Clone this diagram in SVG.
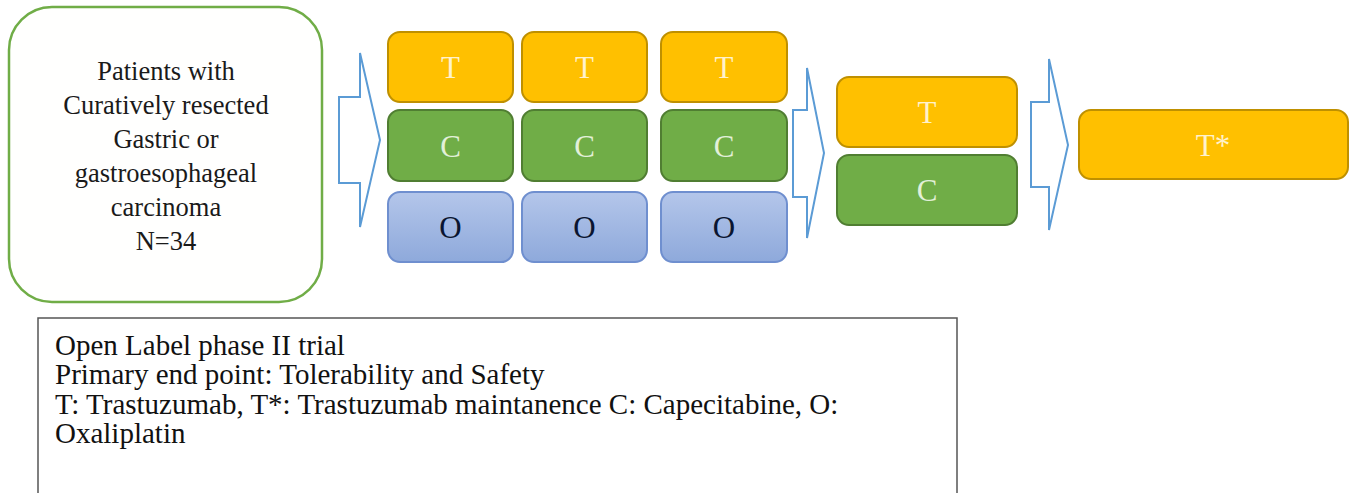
<svg xmlns="http://www.w3.org/2000/svg" width="1351" height="493" viewBox="0 0 1351 493">
<style>
.t{fill:#FFC000;stroke:#BF9000;stroke-width:2}
.c{fill:#70AD47;stroke:#507E32;stroke-width:2}
.o{fill:url(#og);stroke:#6F8FCF;stroke-width:2}
.arr{fill:#FFFFFF;stroke:#5B9BD5;stroke-width:2;stroke-linejoin:miter}
.lt{font-family:"Liberation Serif","Times New Roman",serif;font-size:31px;text-anchor:middle}
.tt{fill:#FFF2CC}
.ct{fill:#E2F0D9}
.ot{fill:#0A1530}
.main{font-family:"Liberation Serif","Times New Roman",serif;font-size:26.5px;fill:#1A1A1A;text-anchor:middle}
.leg{font-family:"Liberation Serif","Times New Roman",serif;font-size:29px;fill:#111111}
</style>
<defs>
<linearGradient id="og" x1="0" y1="0" x2="0" y2="1">
<stop offset="0" stop-color="#B4C6EA"/>
<stop offset="1" stop-color="#8EA9DB"/>
</linearGradient>
</defs>
<rect width="1351" height="493" fill="#FFFFFF"/>
<g id="patients">
<rect x="9" y="7" width="313" height="295" rx="43" ry="43" fill="#FFFFFE" stroke="#70AD47" stroke-width="2.5"/>
<text class="main" x="166" y="80">Patients with</text>
<text class="main" x="166" y="114">Curatively resected</text>
<text class="main" x="166" y="148">Gastric or</text>
<text class="main" x="166" y="182">gastroesophageal</text>
<text class="main" x="166" y="216">carcinoma</text>
<text class="main" x="166" y="250">N=34</text>
</g>
<g id="connectors">
<path class="arr" d="M339,97 L360,97 L360,53 L380,140 L360,227 L360,183 L339,183 Z"/>
<path class="arr" d="M793,110 L807,110 L807,68 L824,153 L807,238 L807,197 L793,197 Z"/>
<path class="arr" d="M1031,102 L1049,102 L1049,59 L1068,145 L1049,230 L1049,187 L1031,187 Z"/>
</g>
<g id="cycle1">
<rect class="t" x="388" y="32" width="125" height="70" rx="12"/>
<text class="lt tt" x="450.5" y="78">T</text>
<rect class="c" x="388" y="110" width="125" height="71" rx="12"/>
<text class="lt ct" x="450.5" y="157">C</text>
<rect class="o" x="388" y="192" width="125" height="70" rx="12"/>
<text class="lt ot" x="450.5" y="238">O</text>
</g>
<g id="cycle2">
<rect class="t" x="522" y="32" width="125" height="70" rx="12"/>
<text class="lt tt" x="584.5" y="78">T</text>
<rect class="c" x="522" y="110" width="125" height="71" rx="12"/>
<text class="lt ct" x="584.5" y="157">C</text>
<rect class="o" x="522" y="192" width="125" height="70" rx="12"/>
<text class="lt ot" x="584.5" y="238">O</text>
</g>
<g id="cycle3">
<rect class="t" x="661" y="32" width="126" height="70" rx="12"/>
<text class="lt tt" x="724" y="78">T</text>
<rect class="c" x="661" y="110" width="126" height="71" rx="12"/>
<text class="lt ct" x="724" y="157">C</text>
<rect class="o" x="661" y="192" width="126" height="70" rx="12"/>
<text class="lt ot" x="724" y="238">O</text>
</g>
<g id="phase2">
<rect class="t" x="837" y="77" width="180" height="70" rx="12"/>
<text class="lt tt" x="927" y="123">T</text>
<rect class="c" x="837" y="155" width="180" height="70" rx="12"/>
<text class="lt ct" x="927" y="201">C</text>
</g>
<g id="maintenance">
<rect class="t" x="1079" y="110" width="269" height="69" rx="12"/>
<text class="lt tt" x="1213" y="156">T*</text>
</g>
<g id="legend">
<rect x="38" y="318" width="919" height="190" fill="#FFFFFF" stroke="#555555" stroke-width="1.5"/>
<text class="leg" x="55" y="355">Open Label phase II trial</text>
<text class="leg" x="55" y="384">Primary end point: Tolerability and Safety</text>
<text class="leg" x="55" y="414">T: Trastuzumab, T*: Trastuzumab maintanence C: Capecitabine, O:</text>
<text class="leg" x="55" y="443">Oxaliplatin</text>
</g>
</svg>
